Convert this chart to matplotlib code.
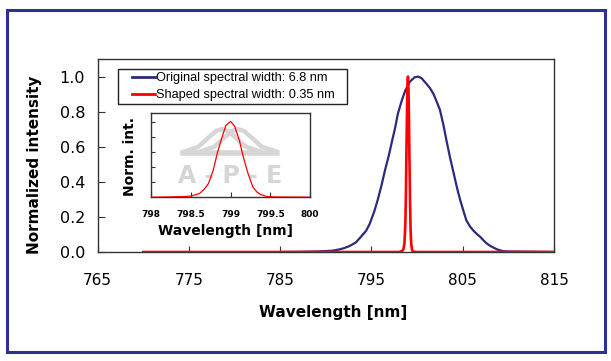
import matplotlib
matplotlib.use("Agg")
import matplotlib.pyplot as plt
from matplotlib.patches import Rectangle
from matplotlib.lines import Line2D

# ---- data ----
orig_wl = [785.0, 787.0, 789.0, 790.0, 790.8, 791.5, 792.0, 792.6, 793.3, 793.9,
           794.4, 794.8, 795.3, 795.7, 796.1, 796.5, 796.9, 797.2, 797.6, 797.9,
           798.3, 798.7, 799.2, 799.7, 800.1, 800.5, 801.0, 801.4, 801.8, 802.2,
           802.5, 802.9, 803.2, 803.6, 804.0, 804.4, 804.7, 805.1, 805.4, 805.8,
           806.2, 806.6, 806.9, 807.3, 807.6, 808.0, 808.3, 808.8, 809.4, 810.0,
           812.0, 815.0]
orig_int = [0.0, 0.001, 0.003, 0.005, 0.008, 0.015, 0.022, 0.034, 0.055, 0.09,
            0.12, 0.16, 0.23, 0.30, 0.38, 0.47, 0.55, 0.62, 0.71, 0.79,
            0.86, 0.92, 0.97, 0.995, 1.0, 0.99, 0.96, 0.935, 0.90, 0.85,
            0.81, 0.72, 0.64, 0.54, 0.45, 0.36, 0.30, 0.23, 0.18, 0.145,
            0.12, 0.10, 0.087, 0.065, 0.05, 0.035, 0.027, 0.014, 0.005, 0.003,
            0.002, 0.0]

shaped_wl = [798.0, 798.2, 798.4, 798.5, 798.61, 798.67, 798.72, 798.78, 798.83, 798.89,
             798.94, 799.0, 799.05, 799.11, 799.16, 799.22, 799.28, 799.33, 799.37,
             799.45, 799.55, 800.0]
shaped_int = [0.0, 0.003, 0.008, 0.015, 0.05, 0.11, 0.18, 0.355, 0.575, 0.79,
              0.95, 1.0, 0.94, 0.75, 0.53, 0.31, 0.135, 0.07, 0.04,
              0.01, 0.003, 0.0]

main_xticks = [765, 775, 785, 795, 805, 815]
main_yticks = [0.0, 0.2, 0.4, 0.6, 0.8, 1.0]
inset_xticks = [798, 798.5, 799, 799.5, 800]
inset_xticklabels = ["798", "798.5", "799", "799.5", "800"]
inset_yticks = [0.2, 0.4, 0.6, 0.8, 1.0]

label_orig = "Original spectral width: 6.8 nm"
label_shaped = "Shaped spectral width: 0.35 nm"

BLUE = "#2c2a7c"
RED = "#ff0000"
FRAME = "#2e3192"
SPINE = "#333333"
LOGO = "#d6d6d6"

W, H = 611, 361
fig = plt.figure(figsize=(W / 100, H / 100), dpi=100)
fig.patch.set_facecolor("white")

# outer blue frame
fig.patches.append(Rectangle((6.5 / W, 1 - 352 / H), (605 - 6.5) / W, (352 - 10) / H,
                             transform=fig.transFigure, fill=False,
                             edgecolor=FRAME, linewidth=2.2, zorder=0))

def fx(px):
    return px / W

def fy(py):
    return 1 - py / H

AX_L, AX_R, AX_T, AX_B = 97.7, 554.0, 59.0, 252.0

def axfx(px):
    return (px - AX_L) / (AX_R - AX_L)

def axfy(py):
    return (AX_B - py) / (AX_B - AX_T)

# ---- main axes ----
ax = fig.add_axes([fx(AX_L), fy(AX_B), fx(AX_R) - fx(AX_L), fy(AX_T) - fy(AX_B)])
main_red_wl = [770.0] + shaped_wl + [815.0]
main_red_int = [0.0] + shaped_int + [0.0]
ax.plot(orig_wl, orig_int, color=BLUE, lw=1.6, label=label_orig, zorder=3)
ax.plot(main_red_wl, main_red_int, color=RED, lw=1.9, label=label_shaped, zorder=4)
ax.set_xlim(765, 815)
ax.set_ylim(0, 1.1)
ax.set_xticks(main_xticks)
ax.set_xticklabels([str(t) for t in main_xticks])
ax.set_yticks(main_yticks)
ax.set_yticklabels([f"{t:.1f}" for t in main_yticks])
ax.tick_params(axis="x", direction="in", length=4, width=0.8, color=SPINE,
               labelsize=11, pad=15)
ax.tick_params(axis="y", direction="in", length=5, width=0.8, color=SPINE,
               labelsize=11.5, pad=9)
for s in ax.spines.values():
    s.set_color(SPINE)
    s.set_linewidth(1.0)
ax.set_xlabel("Wavelength [nm]", fontsize=11, fontweight="bold")
ax.xaxis.set_label_coords(axfx(333), axfy(312))
ax.xaxis.label.set_va("center")
ax.set_ylabel("Normalized intensity", fontsize=11, fontweight="bold")
ax.yaxis.set_label_coords(axfx(35), axfy(165))
ax.yaxis.label.set_va("center")

# legend: text/handles without frame, plus a separate box
leg = ax.legend(loc="upper left", bbox_to_anchor=(axfx(128.5), axfy(68.5)),
                prop={"family": "Liberation Sans", "size": 9.2},
                frameon=False, handlelength=1.75, handletextpad=0.12,
                borderpad=0.3, labelspacing=0.38, borderaxespad=0)
for line in leg.get_lines():
    line.set_linewidth(2.0)
ax.add_patch(Rectangle((axfx(118), axfy(104)), axfx(347) - axfx(118),
                       axfy(69) - axfy(104), transform=ax.transAxes, fill=False,
                       edgecolor="#222222", lw=1.0, zorder=5))

# ---- inset axes ----
IN_L, IN_R, IN_T, IN_B = 151.3, 310.0, 112.5, 197.2
ins = fig.add_axes([fx(IN_L), fy(IN_B), fx(IN_R) - fx(IN_L), fy(IN_T) - fy(IN_B)])

def infx(px):
    return (px - IN_L) / (IN_R - IN_L)

def infy(py):
    return (IN_B - py) / (IN_B - IN_T)

# watermark-like logo (decoration)
ins.text(infx(230), infy(176), "A - P - E", transform=ins.transAxes, ha="center",
         va="center", fontsize=17, color=LOGO, fontweight="bold", zorder=0,
         family="DejaVu Sans")
ins.add_line(Line2D([infx(183), infx(277)], [infy(153), infy(153)],
                    transform=ins.transAxes, color=LOGO, lw=4, zorder=0))
arc_px = [183, 198, 208, 216, 222, 228, 236, 246, 262]
arc_py = [152, 147, 138, 131, 129, 131, 138, 147, 152]
for off in (0, 16):
    ins.add_line(Line2D([infx(p + off) for p in arc_px], [infy(q) for q in arc_py],
                        transform=ins.transAxes, color=LOGO, lw=3.2, zorder=0,
                        solid_capstyle="butt"))
ins.plot(shaped_wl, shaped_int, color=RED, lw=0.9, zorder=3)
ins.set_xlim(798, 800)
ins.set_ylim(0, 1.12)
ins.set_xticks(inset_xticks)
ins.set_xticklabels(inset_xticklabels)
ins.set_yticks(inset_yticks)
ins.set_yticklabels([])
ins.tick_params(axis="x", direction="in", length=3.5, width=0.8, color=SPINE,
                labelsize=6.5, pad=9)
ins.tick_params(axis="y", direction="in", length=3, width=0.8, color=SPINE)
for lab in ins.get_xticklabels():
    lab.set_fontweight("bold")
for s in ins.spines.values():
    s.set_color(SPINE)
    s.set_linewidth(1.0)
ins.set_xlabel("Wavelength [nm]", fontsize=10, fontweight="bold")
ins.xaxis.set_label_coords(infx(226), infy(231))
ins.xaxis.label.set_va("center")
ins.set_ylabel("Norm. int.", fontsize=10, fontweight="bold")
ins.yaxis.set_label_coords(infx(130), infy(156))
ins.yaxis.label.set_va("center")

fig.savefig("out.png", dpi=100)
